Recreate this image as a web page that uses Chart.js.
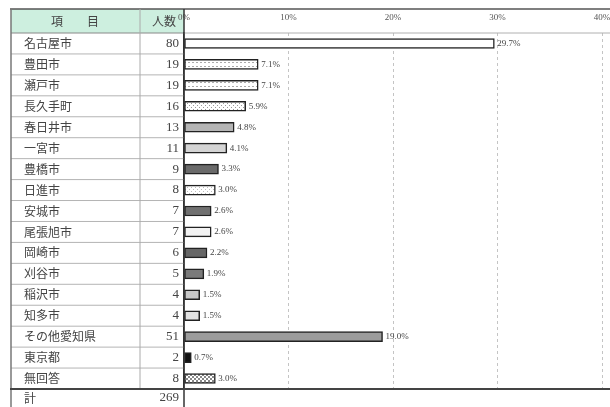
<!DOCTYPE html>
<html>
<head>
<meta charset="utf-8">
<script src="https://cdn.jsdelivr.net/npm/chart.js@4"></script>
<style>
html,body{margin:0;padding:0;background:#fff}
#wrap{position:relative;width:610px;height:407px}
</style>
</head>
<body>
<div id="wrap"><canvas id="c" width="610" height="407"></canvas></div>
<script>
const items = ['名古屋市','豊田市','瀬戸市','長久手町','春日井市','一宮市','豊橋市','日進市','安城市','尾張旭市','岡崎市','刈谷市','稲沢市','知多市','その他愛知県','東京都','無回答'];
const counts = [80,19,19,16,13,11,9,8,7,7,6,5,4,4,51,2,8];
const percents = [29.7,7.1,7.1,5.9,4.8,4.1,3.3,3.0,2.6,2.6,2.2,1.9,1.5,1.5,19.0,0.7,3.0];
const totalLabel = '計';
const totalCount = 269;
const xTicks = [0,10,20,30,40];

// small fill patterns like the printed original
function pattern(bg, fg, kind){
  const p = document.createElement('canvas');
  p.width = 4; p.height = 4;
  const g = p.getContext('2d');
  g.fillStyle = bg; g.fillRect(0,0,4,4);
  g.fillStyle = fg;
  if(kind==='dots'){g.fillRect(1,1,1,1);g.fillRect(3,3,1,1)}
  if(kind==='dash'){g.fillRect(0,2,2,1)}
  if(kind==='check'){g.fillRect(0,0,2,2);g.fillRect(2,2,2,2)}
  return document.getElementById('c').getContext('2d').createPattern(p,'repeat');
}
const fills = [
  '#ffffff', pattern('#fff','#aaa','dash'), pattern('#fff','#aaa','dash'), pattern('#fff','#999','dots'),
  '#b4b4b4', '#d4d4d4', '#6a6a6a', pattern('#fff','#bbb','dots'), '#707070', '#f2f2f2',
  '#666666', '#7a7a7a', '#c8c8c8', '#e2e2e2', '#9c9c9c', '#111111', pattern('#fff','#888','check')
];

const tablePlugin = {
  id:'table',
  beforeDraw(chart){
    const ctx = chart.ctx;
    ctx.save();
    ctx.fillStyle = '#cdefdf';
    ctx.fillRect(11,9,173,24);
    ctx.restore();
  },
  afterDraw(chart){
    const ctx = chart.ctx, y = chart.scales.y, a = chart.chartArea;
    const h = (a.bottom - a.top) / items.length;
    ctx.save();
    const line = (x1,y1,x2,y2,c,w)=>{ctx.strokeStyle=c;ctx.lineWidth=w;ctx.beginPath();ctx.moveTo(x1,y1);ctx.lineTo(x2,y2);ctx.stroke();};
    for(let i=1;i<items.length;i++) line(11,a.top+i*h,184,a.top+i*h,'#b4b4b4',1);
    line(11,a.top,184,a.top,'#888',1);
    line(184,a.top,610,a.top,'#b0b0b0',1);
    line(10,9,610,9,'#555',1.5);
    line(11,9,11,407,'#777',1.5);
    line(140,9,140,a.bottom,'#aaa',1);
    line(184,9,184,407,'#333',1.5);
    line(10,a.bottom,610,a.bottom,'#444',2);
    ctx.fillStyle = '#444';
    ctx.font = '12px "Noto Sans CJK JP"';
    ctx.textBaseline = 'middle';
    ctx.textAlign = 'center';
    ctx.fillText('項　　目',75,21);
    ctx.textAlign = 'right';
    ctx.fillText('人数',176,21);
    items.forEach((name,i)=>{
      const cy = y.getPixelForValue(i);
      ctx.textAlign = 'left';
      ctx.font = '12px "Noto Sans CJK JP"';
      ctx.fillText(name,24,cy);
      ctx.textAlign = 'right';
      ctx.font = '13px "Liberation Serif"';
      ctx.fillText(String(counts[i]),179,cy);
    });
    const ty = a.bottom + 9;
    ctx.textAlign = 'left';
    ctx.font = '12px "Noto Sans CJK JP"';
    ctx.fillText(totalLabel,24,ty);
    ctx.textAlign = 'right';
    ctx.font = '13px "Liberation Serif"';
    ctx.fillText(String(totalCount),179,ty);
    ctx.restore();
  }
};

const valueLabels = {
  id:'valueLabels',
  afterDatasetsDraw(chart){
    const ctx = chart.ctx;
    ctx.save();
    ctx.fillStyle = '#444';
    ctx.font = '9px "Liberation Serif"';
    ctx.textBaseline = 'middle';
    ctx.textAlign = 'left';
    chart.getDatasetMeta(0).data.forEach((el,i)=>{
      ctx.fillText(percents[i].toFixed(1)+'%', el.x+3, el.y);
    });
    ctx.restore();
  }
};

new Chart(document.getElementById('c'),{
  type:'bar',
  data:{labels:items,datasets:[{data:percents,backgroundColor:fills,borderColor:'#222',borderWidth:1.5,barThickness:10,borderSkipped:false}]},
  options:{
    indexAxis:'y',
    responsive:false,
    animation:false,
    layout:{padding:{left:10,top:9,right:8,bottom:18}},
    plugins:{legend:{display:false},tooltip:{enabled:false}},
    scales:{
      x:{
        position:'top', min:0, max:40,
        afterBuildTicks:s=>{s.ticks = xTicks.map(v=>({value:v}));},
        afterFit:s=>{s.height = 24; s.paddingLeft = 0; s.paddingRight = 0;},
        ticks:{callback:v=>v+'%',color:'#555',font:{family:'Liberation Serif',size:9},padding:10,maxRotation:0},
        grid:{drawTicks:false,color:c=>c.tick && c.tick.value===0 ? 'rgba(0,0,0,0)' : '#c4c4c4'},
        border:{display:false,dash:[3,3]}
      },
      y:{
        afterFit:s=>{s.width = 174;},
        ticks:{display:false},
        grid:{display:false},
        border:{display:true,color:'#333',width:1.5}
      }
    }
  },
  plugins:[tablePlugin,valueLabels]
});
</script>
</body>
</html>
